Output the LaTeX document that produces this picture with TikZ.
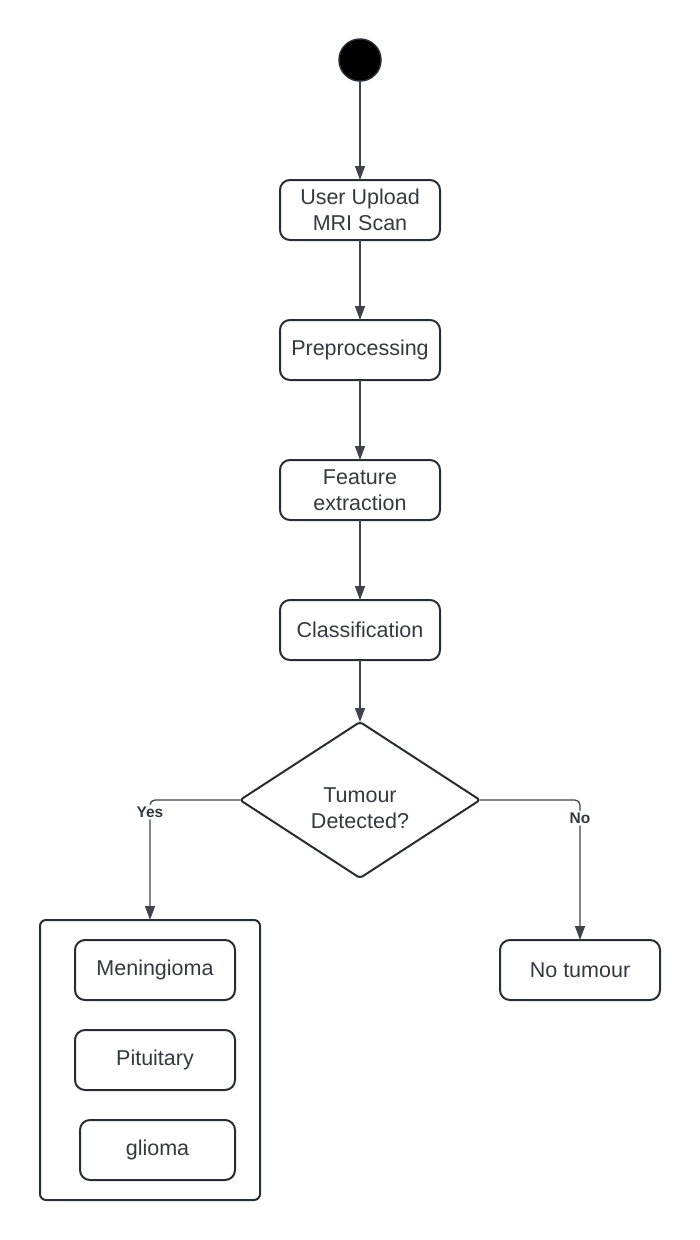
\documentclass[tikz,border=0pt]{standalone}
\usepackage{fontspec}
\setmainfont{Liberation Sans}
\usepackage{xcolor}
\usepackage{tikz}
\usetikzlibrary{positioning,shapes.geometric,arrows.meta,backgrounds}

\definecolor{edgegray}{RGB}{40,44,51}
\definecolor{linegray}{RGB}{62,67,76}
\definecolor{txtgray}{RGB}{52,57,65}

\begin{document}
\begin{tikzpicture}[
  x=1pt, y=-1pt,
  font=\fontsize{21.5}{26}\selectfont,
  >={Triangle[length=14pt,width=10pt]},
  node distance=80pt,
  arr/.style={->, draw=linegray, line width=1.3pt},
  act/.style={draw=edgegray, line width=2pt, rounded corners=10pt, align=center,
              text=txtgray, minimum width=160pt, minimum height=60pt,
              inner sep=2pt, outer sep=0pt},
  grp/.style={draw=edgegray, line width=2pt, rounded corners=6pt,
              minimum width=220pt, minimum height=280pt, outer sep=0pt},
  dec/.style={draw=edgegray, line width=2pt, diamond, aspect=1.54,
              rounded corners=3pt, minimum width=240pt, minimum height=156pt,
              inner sep=0pt, outer sep=0pt},
  startdot/.style={circle, fill=black, draw=edgegray, line width=1.5pt,
                   minimum size=42pt, inner sep=0pt, outer sep=0pt},
  lbl/.style={font=\bfseries\fontsize{15.5}{18}\selectfont, fill=white,
              text=txtgray, inner sep=2pt},
]
\useasboundingbox (0,0) rectangle (700,1240);

%% ===== MAIN PIPELINE =====
\node[startdot] (start) at (360,60) {};

\node[act] (upload) at (360,210) {User Upload\\MRI Scan};

\node[act, below=of upload] (prep) {Preprocessing};

\node[act, below=of prep] (feat) {Feature\\extraction};

\node[act, below=of feat] (clsf) {Classification};

\node[dec, below=62pt of clsf,
      label={[text=txtgray, align=center, yshift=-8pt]center:Tumour\\Detected?}]
    (detect) {};

%% ===== OUTCOMES =====
\node[act] (notum) at (580,970) {No tumour};

\begin{scope}[on background layer]
  \node[grp] (tumgrp) at (150,1060) {};
\end{scope}

\node[act, minimum width=160pt] (menin) at (155,970) {Meningioma};
\node[act, minimum width=160pt] (pitu) at (155,1060) {Pituitary};
\node[act, minimum width=155pt] (glio) at (157.5,1150) {glioma};

%% ===== CONNECTING ARROWS =====
\draw[arr] (start) -- (upload);
\draw[arr] (upload) -- (prep);
\draw[arr] (prep) -- (feat);
\draw[arr] (feat) -- (clsf);
\draw[arr] (clsf) -- (detect);

\draw[arr, rounded corners=5pt] (detect.west) -- (tumgrp.north |- detect.west)
    -- node[lbl, pos=0.1] (yeslbl) {Yes} (tumgrp.north);
\draw[arr, rounded corners=5pt] (detect.east) -- (notum.north |- detect.east)
    -- node[lbl, pos=0.13] (nolbl) {No} (notum.north);

\end{tikzpicture}
\end{document}
